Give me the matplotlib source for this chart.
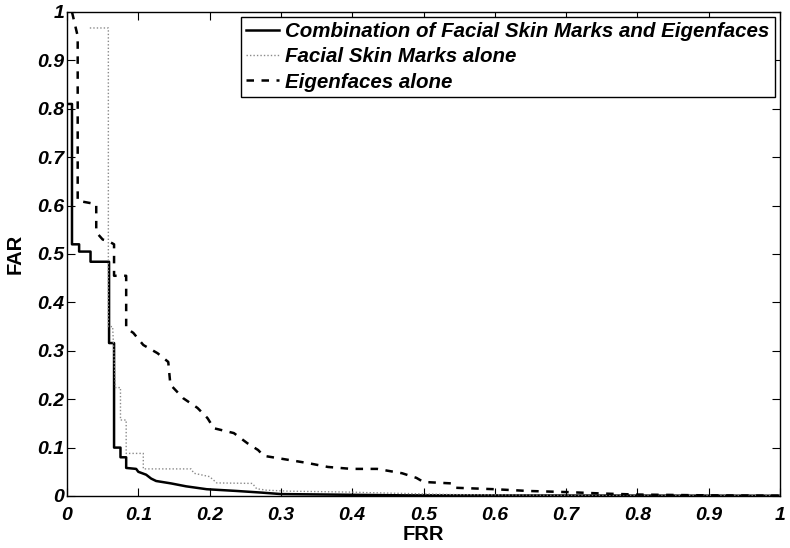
import matplotlib
matplotlib.use("Agg")
import matplotlib.pyplot as plt

comb_x = [0, 0.007, 0.007, 0.017, 0.017, 0.033, 0.033, 0.059, 0.059, 0.066, 0.066, 0.075, 0.075, 0.083, 0.083,
          0.097, 0.1, 0.111, 0.118, 0.125, 0.146, 0.167, 0.196, 0.238, 0.273, 0.3, 0.365, 0.47, 1.0]
comb_y = [0.81, 0.81, 0.52, 0.52, 0.505, 0.505, 0.484, 0.484, 0.316, 0.316, 0.10, 0.10, 0.08, 0.08, 0.058,
          0.056, 0.05, 0.044, 0.036, 0.031, 0.026, 0.02, 0.014, 0.0104, 0.007, 0.004, 0.003, 0.0014, 0.0005]

skin_x = [0.032, 0.058, 0.058, 0.064, 0.068, 0.075, 0.075, 0.083, 0.083, 0.107, 0.107, 0.174, 0.178, 0.2, 0.21,
          0.26, 0.266, 0.28, 0.31, 0.4, 0.42, 0.54, 0.68, 1.0]
skin_y = [0.967, 0.967, 0.35, 0.35, 0.224, 0.224, 0.157, 0.157, 0.088, 0.088, 0.056, 0.056, 0.047, 0.04, 0.027,
          0.026, 0.015, 0.012, 0.01, 0.008, 0.007, 0.003, 0.0014, 0.0007]

eig_x = [0.007, 0.015, 0.015, 0.041, 0.041, 0.05, 0.06, 0.066, 0.066, 0.083, 0.083, 0.093, 0.107, 0.127, 0.142,
         0.145, 0.163, 0.183, 0.197, 0.206, 0.234, 0.253, 0.268, 0.276, 0.305, 0.338, 0.366, 0.399, 0.435, 0.47,
         0.49, 0.5, 0.54, 0.545, 0.6, 0.647, 0.703, 0.753, 0.8, 0.894, 1.0]
eig_y = [1.0, 0.95, 0.61, 0.603, 0.545, 0.53, 0.525, 0.52, 0.455, 0.455, 0.347, 0.337, 0.312, 0.295, 0.277,
         0.23, 0.202, 0.182, 0.161, 0.14, 0.13, 0.109, 0.095, 0.083, 0.076, 0.068, 0.06, 0.056, 0.056, 0.047,
         0.0375, 0.029, 0.026, 0.017, 0.014, 0.0104, 0.008, 0.005, 0.003, 0.0014, 0.0007]

labels = ["Combination of Facial Skin Marks and Eigenfaces", "Facial Skin Marks alone", "Eigenfaces alone"]
ticks = [0, 0.1, 0.2, 0.3, 0.4, 0.5, 0.6, 0.7, 0.8, 0.9, 1]
tick_labels = ["0", "0.1", "0.2", "0.3", "0.4", "0.5", "0.6", "0.7", "0.8", "0.9", "1"]

plt.rcParams['font.family'] = ['Liberation Sans', 'DejaVu Sans']
fig = plt.figure(figsize=(7.9, 5.48), dpi=100)
ax = fig.add_axes([67 / 790, 1 - 496 / 548, 713 / 790, 484 / 548])

ax.plot(comb_x, comb_y, color='black', lw=1.8, label=labels[0])
ax.plot(skin_x, skin_y, color='#8a8a8a', lw=1.0, ls=(0, (1, 1.5)), label=labels[1])
ax.plot(eig_x, eig_y, color='black', lw=1.8, ls=(0, (3, 3)), label=labels[2])

ax.set_xlim(0, 1)
ax.set_ylim(0, 1)
ax.set_xticks(ticks)
ax.set_yticks(ticks)
ax.set_xticklabels(tick_labels)
ax.set_yticklabels(tick_labels)
for lab in ax.get_xticklabels() + ax.get_yticklabels():
    lab.set_fontweight('bold')
    lab.set_fontstyle('italic')
    lab.set_fontsize(14)
ax.tick_params(direction='in', top=True, right=True, length=6, width=0.8)
ax.tick_params(axis='x', pad=8)
ax.tick_params(axis='y', pad=2)
for s in ax.spines.values():
    s.set_linewidth(1.0)

ax.set_xlabel("FRR", fontsize=14.5, fontweight='bold', labelpad=1)
ax.set_ylabel("FAR", fontsize=14.5, fontweight='bold', labelpad=9)

leg = ax.legend(loc='upper right', prop={'weight': 'bold', 'style': 'italic', 'size': 14.8},
                handlelength=1.6, handletextpad=0.3, borderpad=0.25, labelspacing=0.3,
                fancybox=False, framealpha=1, edgecolor='black', borderaxespad=0.25)
leg.get_frame().set_linewidth(1.0)

fig.savefig("out.png", dpi=100)
